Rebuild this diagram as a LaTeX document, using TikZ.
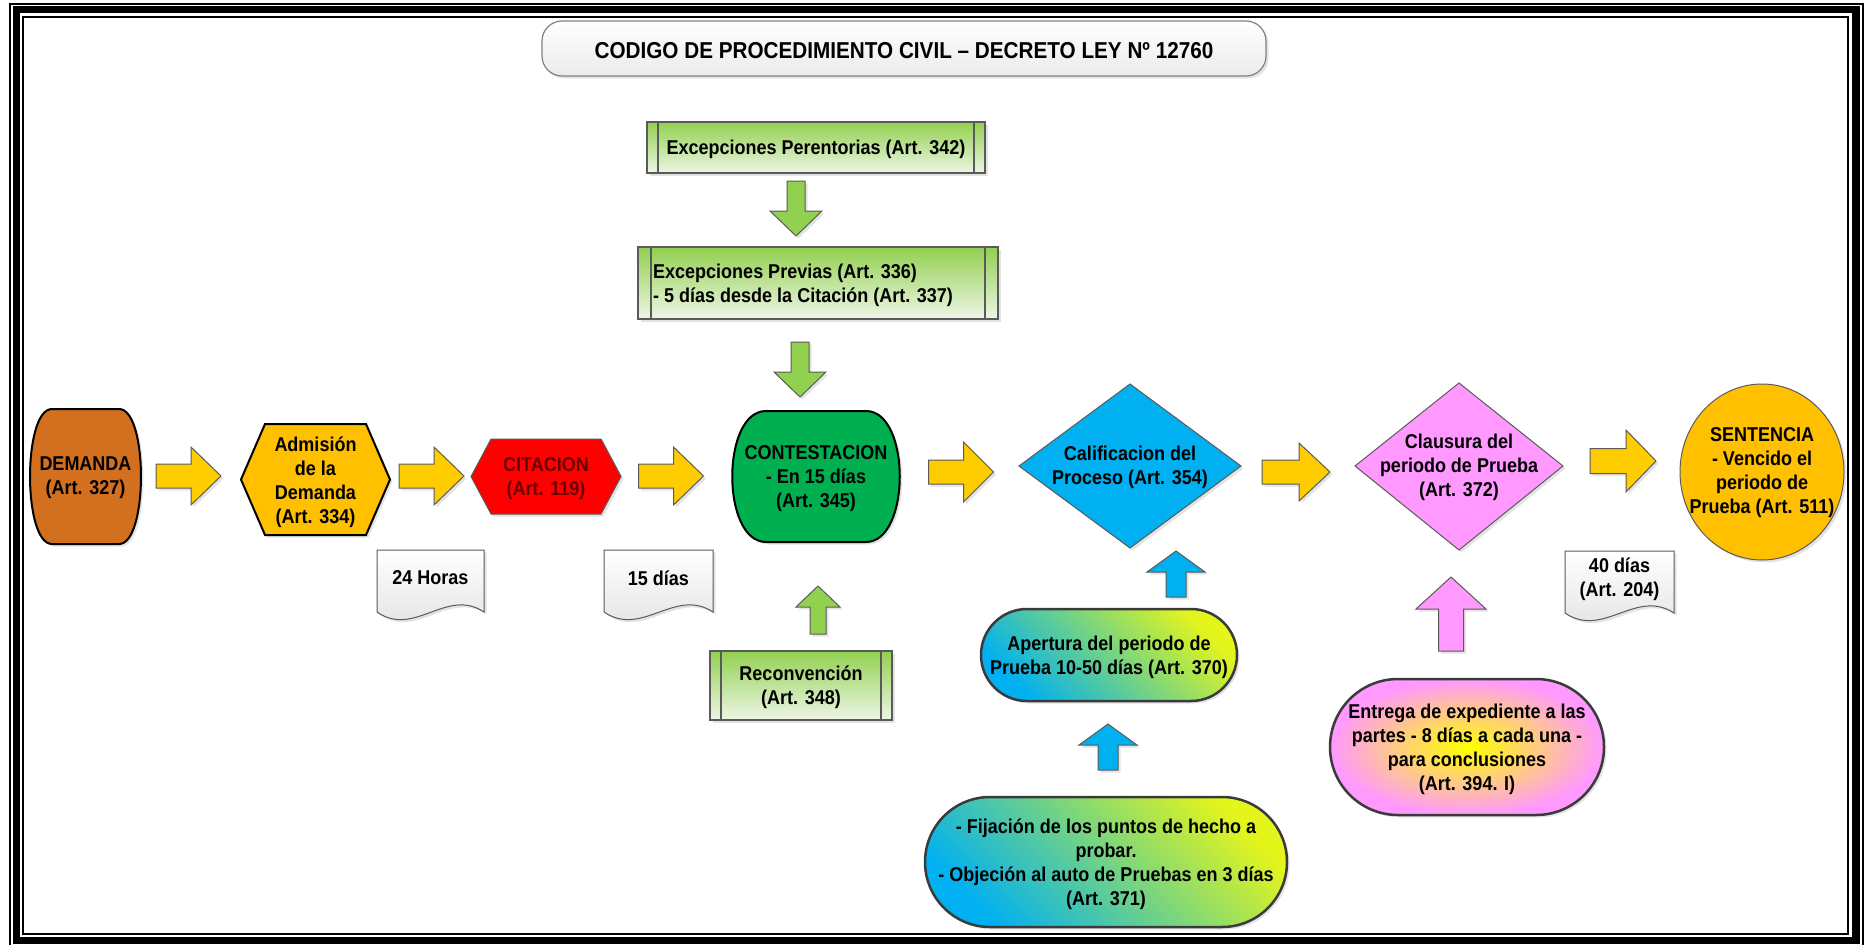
\documentclass[tikz,border=0pt]{standalone}
\usepackage{fontspec}
\setmainfont{Liberation Sans}[FakeStretch=0.9]
\usetikzlibrary{shadows}

\definecolor{rust}{HTML}{D2701F}
\definecolor{amber}{HTML}{FFC000}
\definecolor{arrowgold}{HTML}{FFCC00}
\definecolor{leafgreen}{HTML}{92D050}
\definecolor{palegreen}{HTML}{EEF6E6}
\definecolor{emerald}{HTML}{00B050}
\definecolor{skyblue}{HTML}{00B0F0}
\definecolor{orchid}{HTML}{FF99FF}
\definecolor{limeyellow}{HTML}{E4F51C}
\definecolor{maroon}{HTML}{6A0000}
\definecolor{edgegrey}{HTML}{5A5A5A}
\definecolor{darkedge}{HTML}{3A3A3A}

\tikzset{
  txt/.style={font=\bfseries\fontsize{20}{24}\selectfont, align=center, inner sep=0pt, yshift=-2pt},
  soft shadow/.style={drop shadow={shadow xshift=2.5pt, shadow yshift=-2.5pt, opacity=0.22}},
  thinedge/.style={draw=edgegrey, line width=1pt},
  boldedge/.style={draw=black, line width=2pt},
  pilledge/.style={draw=darkedge, line width=2.5pt},
  yellowarrow/.style={thinedge, fill=arrowgold, soft shadow},
  greenarrow/.style={thinedge, fill=leafgreen, soft shadow},
  bluearrow/.style={thinedge, fill=skyblue, soft shadow},
  pinkarrow/.style={thinedge, fill=orchid, soft shadow},
  processbox/.style={draw=edgegrey, line width=1.3pt, top color=leafgreen, bottom color=palegreen, soft shadow},
  processbar/.style={draw=edgegrey, line width=1.3pt},
  docshape/.style={draw=edgegrey, line width=1pt, top color=white, bottom color=black!12, soft shadow},
  bluepill/.style={pilledge, left color=skyblue, right color=limeyellow, shading angle=135, soft shadow},
  pinkpill/.style={pilledge, inner color=yellow, outer color=orchid, soft shadow},
  titlepill/.style={draw=gray, line width=1.2pt, top color=white, bottom color=black!8, rounded corners=20pt, soft shadow},
}

% block arrow along the local x axis:
% #1 rotation, #2 centre, #3 length, #4 head width, #5 shaft width, #6 head length, #7 style
\newcommand\blockarrow[7]{%
  \begin{scope}[shift={#2}, rotate=#1]
    \path[#7] ({-(#3)/2},{-(#5)/2}) -- ({(#3)/2-(#6)},{-(#5)/2}) -- ({(#3)/2-(#6)},{-(#4)/2})
      -- ({(#3)/2},0) -- ({(#3)/2-(#6)},{(#4)/2}) -- ({(#3)/2-(#6)},{(#5)/2})
      -- ({-(#3)/2},{(#5)/2}) -- cycle;
  \end{scope}}

% document sheet with a wavy lower edge: #1 left, #2 top, #3 right, #4 style
\newcommand\docsheet[4]{%
  \path[#4] (#1,#2) -- (#3,#2) -- (#3,{#2+62})
    .. controls ({#1+0.65*(#3-#1)},{#2+37}) and ({#1+0.35*(#3-#1)},{#2+88}) .. (#1,{#2+62}) -- cycle;}

\begin{document}
\begin{tikzpicture}[x=1pt, y=-1pt]
\useasboundingbox (0,0) rectangle (1869,945);
\clip (0,0) rectangle (1869,945);

% triple frame
\draw[line width=2pt] (10,4) rectangle (1863,948);
\draw[line width=7.5pt] (16.5,9.5) rectangle (1856,940.5);
\draw[line width=2pt] (23,16.5) rectangle (1848,934);

% heading
\path[titlepill] (542,21) rectangle (1266,76);
\node[txt, font=\bfseries\fontsize{23}{27}\selectfont] (title) at (904,49)
  {CODIGO DE PROCEDIMIENTO CIVIL – DECRETO LEY Nº 12760};

% exceptions column
\path[processbox] (647,122) rectangle (985,173);
\draw[processbar] (658,122) -- (658,173) (974,122) -- (974,173);
\node[txt] (perent) at (816,147) {Excepciones Perentorias (Art. 342)};

\path[processbox] (638,247) rectangle (998,319);
\draw[processbar] (651,247) -- (651,319) (985,247) -- (985,319);
\node[txt, align=left, anchor=west] (previas) at (653,283)
  {Excepciones Previas (Art. 336)\\- 5 días desde la Citación (Art. 337)};

\path[processbox] (710,651) rectangle (892,720);
\draw[processbar] (721,651) -- (721,720) (881,651) -- (881,720);
\node[txt] (reconv) at (801,685.5) {Reconvención\\(Art. 348)};

% main line
\path[boldedge, fill=rust, soft shadow] (52,409) -- (119,409)
  .. controls (148.3,409) and (148.3,544) .. (119,544) -- (52,544)
  .. controls (22.7,544) and (22.7,409) .. (52,409) -- cycle;
\node[txt] (demanda) at (85.5,476) {DEMANDA\\(Art. 327)};

\path[boldedge, fill=amber, soft shadow] (241,479.5) -- (265,424) -- (366,424)
  -- (390,479.5) -- (366,535) -- (265,535) -- cycle;
\node[txt] (admision) at (315.5,480) {Admisión\\de la\\Demanda\\(Art. 334)};

\path[thinedge, fill=red, soft shadow] (471,476.5) -- (491,439) -- (601,439)
  -- (621,476.5) -- (601,514) -- (491,514) -- cycle;
\node[txt, text=maroon] (citacion) at (546,476.5) {CITACION\\(Art. 119)};

\path[boldedge, fill=emerald, soft shadow] (766,411) -- (866,411)
  .. controls (911,411) and (911,542) .. (866,542) -- (766,542)
  .. controls (721,542) and (721,411) .. (766,411) -- cycle;
\node[txt] (contest) at (816,476.5) {CONTESTACION\\- En 15 días\\(Art. 345)};

\path[thinedge, fill=skyblue, soft shadow] (1019,466) -- (1130,384) -- (1241,466) -- (1130,548) -- cycle;
\node[txt] (calif) at (1130,465) {Calificacion del\\Proceso (Art. 354)};

\path[thinedge, fill=orchid, soft shadow] (1355,466) -- (1459,383) -- (1563,466) -- (1459,550) -- cycle;
\node[txt] (clausura) at (1459,465) {Clausura del\\periodo de Prueba\\(Art. 372)};

\path[thinedge, fill=amber, soft shadow] (1762,472) ellipse [x radius=82pt, y radius=88pt];
\node[txt] (sentencia) at (1762,471) {SENTENCIA\\- Vencido el\\periodo de\\Prueba (Art. 511)};

% evidence stage
\path[bluepill, rounded corners=46pt] (981,609) rectangle (1237,701);
\node[txt] (apertura) at (1109,655) {Apertura del periodo de\\Prueba 10-50 días (Art. 370)};

\path[bluepill, rounded corners=65pt] (925,797) rectangle (1287,927);
\node[txt] (fijacion) at (1106,862)
  {- Fijación de los puntos de hecho a\\probar.\\- Objeción al auto de Pruebas en 3 días\\(Art. 371)};

\path[pinkpill, rounded corners=68pt] (1330,679) rectangle (1604,815);
\node[txt] (entrega) at (1467,747)
  {Entrega de expediente a las\\partes - 8 días a cada una -\\para conclusiones\\(Art. 394. I)};

% time limits
\docsheet{377}{550}{484}{docshape}
\node[txt] (plazo24) at (430.5,576) {24 Horas};
\docsheet{604}{550}{713}{docshape}
\node[txt] (plazo15) at (658.5,576) {15 días};
\docsheet{1565}{551}{1674}{docshape}
\node[txt] (plazo40) at (1619.5,577) {40 días\\(Art. 204)};

% block arrows
\blockarrow{0}{(188.5,476)}{65}{58}{24}{30}{yellowarrow}
\blockarrow{0}{(431.5,476)}{65}{58}{24}{30}{yellowarrow}
\blockarrow{0}{(671,476)}{65}{58}{24}{30}{yellowarrow}
\blockarrow{0}{(961,472)}{65}{60}{24}{30}{yellowarrow}
\blockarrow{0}{(1296,472)}{68}{58}{24}{31}{yellowarrow}
\blockarrow{0}{(1623,461)}{66}{62}{25}{30}{yellowarrow}

\blockarrow{-90}{(796,208.5)}{55}{52}{18}{25}{greenarrow}
\blockarrow{-90}{(800,369.5)}{55}{52}{18}{25}{greenarrow}
\blockarrow{90}{(818,610)}{48}{44}{16}{21}{greenarrow}

\blockarrow{90}{(1176,574)}{46}{58}{20}{21}{bluearrow}
\blockarrow{90}{(1108,747)}{46}{58}{20}{21}{bluearrow}
\blockarrow{90}{(1451,614)}{74}{70}{25}{32}{pinkarrow}
\end{tikzpicture}
\end{document}
